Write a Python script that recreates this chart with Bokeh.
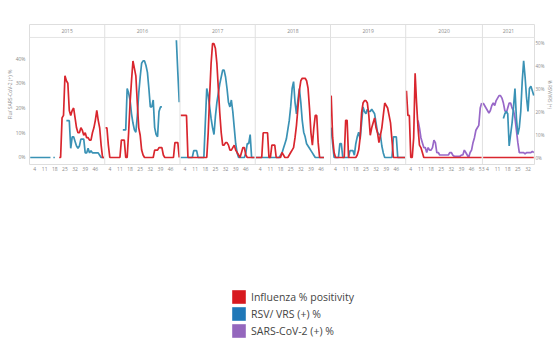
import math
from bokeh.plotting import figure
from bokeh.layouts import column
from bokeh.models import (Range1d, LinearAxis, FixedTicker, PrintfTickFormatter,
                          Label, Span, Legend, LegendItem, ColumnDataSource)
from bokeh.embed import file_html
from bokeh.resources import INLINE

N = None
YEARS = ["2015", "2016", "2017", "2018", "2019", "2020", "2021"]
WEEKS_PER_YEAR = [52, 52, 52, 52, 52, 53, 36]
TICK_WEEKS = [4, 11, 18, 25, 32, 39, 46, 53]
LEFT_TICKS = [0, 10, 20, 30, 40]
RIGHT_TICKS = [0, 10, 20, 30, 40, 50]

# Influenza % positivity (left axis), one value per week
FLU_2015 = [N] * 20 + [0, 0, 16, 17, 33, 31, 30, 19, 17, 19, 20, 16, 12, 10, 10, 12, 11, 9, 10, 8,
                       8, 7, 7, 10, 12, 15, 19, 15, 12, 5, 0, 0]
FLU_2016 = [12, 12, 5, 0, 0, 0, 0, 0, 0, 0, 0, 7, 7, 7, 0, 0, 10, 22, 31, 39, 36, 33, 22, 12, 9, 3,
            1, 0, 0, 0, 0, 0, 0, 0, 3, 3, 3, 4, 4, 4, 1, 0, 0, 0, 0, 0, 0, 0, 6, 6, 6, 0]
FLU_2017 = [17, 17, 17, 17, 17, 0, 0, 0, 0, 0, 0, 0, 0, 0, 0, 0, 0, 0, 0, 10, 25, 38, 46, 46, 44, 38,
            28, 18, 10, 5, 5, 6, 6, 5, 3, 3, 4, 5, 3, 2, 1, 0, 2, 4, 4, 1, 0, 0, 0, 0, 0, 0]
FLU_2018 = [0, 0, 0, 0, 0, 10, 10, 10, 10, 0, 0, 5, 5, 5, 0, 0, 0, 0, 2, 1, 0, 0, 0, 1, 2, 3, 4, 8,
            13, 20, 27, 31, 32, 32, 32, 31, 28, 20, 10, 5, 12, 17, 17, 6, 0, 0, 0, 0, N, N, N, N]
FLU_2019 = [25, 8, 2, 0, 0, 0, 0, 0, 0, 0, 15, 15, 0, 0, 0, 0, 0, 0, 1, 3, 8, 18, 22, 23, 23, 22, 17,
            9, 12, 14, 16, 12, 10, 6, 9, 12, 17, 22, 21, 20, 17, 14, 7, 0, 0, 0, 0, 0, 0, 0, 0, 0]
FLU_2020 = [27, 17, 17, 0, 0, 8, 34, 22, 12, 5, 4, 2] + [0] * 41
FLU_2021 = [0] * 36

# RSV / VRS (+) % (right axis)
RSV_2015 = [0] * 15 + [N, 0, 0, N, N, N, N, N, N, N] + [16, 16, 16, 4, 9, 9, 7, 5, 4, 5, 8, 8, 8, 2, 2,
                                                      4, 2, 3, 2, 2, 2, 2, 2, 1, 0, 0, 0]
RSV_2016 = [N] * 12 + [12, 12, 12, 30, 28, 25, 19, 15, 12, 11, 18, 28, 35, 41, 42, 42, 40, 37, 30, 22,
                       22, 25, 13, 10, 9, 20, 22, 22] + [N] * 9 + [51, 37, 24]
RSV_2017 = [0] * 9 + [3, 3, 3] + [0] * 5 + [15, 30, 27, 22, 17, 13, 10, 18, 24, 28, 32, 35, 38, 38, 35,
                                            30, 24, 22, 25, 20, 13, 6, 2] + [0] * 5 + [2, 6, 6, 10, 0, 0, 0]
RSV_2018 = [0] * 17 + [1, 2, 4, 6, 8, 12, 16, 22, 30, 33, 24, 19, 25, 30, 24, 16, 11, 9, 6, 5, 4, 3, 2,
                       1] + [0] * 7 + [N] * 4
RSV_2019 = [13, 6, 0, 0, 0, 0, 6, 6, 0, 0, 0, 0, 0, 3, 3, 3, 1, 6, 9, 11, 8, 15, 22, 20, 19, 21, 20,
            20, 21, 20, 19, 15, 11, 10, 10, 5, 2, 0, 0, 0, 0, 0, 0, 9, 9, 9, 0, 0, 0, 0, 0, 0]
RSV_2020 = [N] * 53
RSV_2021 = [N] * 14 + [17, 19, 20, 19, 5, 10, 15, 22, 30, 17, 10, 13, 20, 33, 42, 35, 26, 20, 30, 31,
                       29, 27]

# SARS-CoV-2 (+) % (left axis)
SARS_2015 = [N] * 52
SARS_2016 = [N] * 52
SARS_2017 = [N] * 52
SARS_2018 = [N] * 52
SARS_2019 = [N] * 52
SARS_2020 = [N] * 8 + [15, 12, 8, 6, 4, 4, 2, 4, 3, 3, 4, 7, 6, 2, 2, 1, 1, 1, 1, 1, 1, 1, 2, 2, 1,
                       0.5, 0.5, 0.5, 0.5, 0.5, 1, 1, 3, 2, 1, 0, 2, 3, 6, 8, 11, 12, 13, 20, 22]
SARS_2021 = [22, 21, 20, 19, 18, 19, 21, 22, 21, 23, 24, 25, 25, 24, 22, 19, 18, 20, 22, 22, 20, 19,
             16, 11, 6, 2, 2, 2, 2, 1.5, 2, 2, 2, 2, 2.5, 2]

FLU = [FLU_2015, FLU_2016, FLU_2017, FLU_2018, FLU_2019, FLU_2020, FLU_2021]
RSV = [RSV_2015, RSV_2016, RSV_2017, RSV_2018, RSV_2019, RSV_2020, RSV_2021]
SARS = [SARS_2015, SARS_2016, SARS_2017, SARS_2018, SARS_2019, SARS_2020, SARS_2021]

LABELS = ["Influenza % positivity", "RSV/ VRS (+) %", "SARS-CoV-2 (+) %"]
LINE_COLORS = ["#d9262e", "#3a92b5", "#9868c8"]
KEY_COLORS = ["#d7191f", "#1f78b8", "#9467bd"]

FONT = "Open Sans"
TEXT_GREY = "#8a8a8a"
OFFSETS = [sum(WEEKS_PER_YEAR[:i]) for i in range(len(YEARS))]
TOTAL = sum(WEEKS_PER_YEAR)


def series(per_year):
    xs, ys = [], []
    for off, n, vals in zip(OFFSETS, WEEKS_PER_YEAR, per_year):
        vals = (list(vals) + [None] * n)[:n]
        for w, v in enumerate(vals, start=1):
            xs.append(off + w - 0.5)
            ys.append(float("nan") if v is None else v)
        xs.append(off + n)
        ys.append(float("nan"))
    return ColumnDataSource(dict(x=xs, y=ys))


def style_axis(ax, standoff, title_standoff, size="5px"):
    ax.axis_line_color = None
    ax.major_tick_line_color = None
    ax.minor_tick_line_color = None
    ax.major_tick_out = 0
    ax.major_tick_in = 0
    ax.minor_tick_out = 0
    ax.minor_tick_in = 0
    ax.major_label_standoff = standoff
    ax.axis_label_standoff = title_standoff
    ax.major_label_text_font_size = size
    ax.axis_label_text_font_size = size
    ax.axis_label_text_font_style = "normal"
    ax.major_label_text_color = TEXT_GREY
    ax.axis_label_text_color = TEXT_GREY
    ax.major_label_text_font = FONT
    ax.axis_label_text_font = FONT


# frame spans the header band (top) down to the plot bottom line
PLOT_H = 280
p = figure(width=556, height=PLOT_H, x_range=Range1d(0, TOTAL), y_range=Range1d(-2.83, 53.74),
           output_backend="svg", toolbar_location=None,
           min_border_left=29, min_border_right=19, min_border_top=24,
           min_border_bottom=PLOT_H - 164)
p.extra_y_ranges = {"rsv": Range1d(-3.04, 57.83)}
p.xgrid.visible = False
p.ygrid.visible = False
p.outline_line_color = "#dedede"
p.background_fill_color = "white"
p.border_fill_color = "white"

# x axis ticks: week numbers inside each year pane
tick_pos, overrides = [], {}
for off, n in zip(OFFSETS, WEEKS_PER_YEAR):
    for t in TICK_WEEKS:
        if t <= n:
            pos = off + t - 0.5
            tick_pos.append(pos)
            overrides[pos] = str(t)
xa = p.xaxis[0]
xa.ticker = FixedTicker(ticks=tick_pos)
xa.major_label_overrides = overrides
style_axis(xa, 2, 0)

ya = p.yaxis[0]
ya.ticker = FixedTicker(ticks=LEFT_TICKS)
ya.formatter = PrintfTickFormatter(format="%d%%")
ya.axis_label = "Flu/ SARS-CoV-2 (+) %"
style_axis(ya, 4, 0)

ra = LinearAxis(y_range_name="rsv", ticker=FixedTicker(ticks=RIGHT_TICKS),
                formatter=PrintfTickFormatter(format="%d%%"), axis_label="% RSV/VRS (+)")
style_axis(ra, 1, 0, size="4.5px")
p.add_layout(ra, "right")

# header band: line under the year headers, pane separators, year labels
FRAME_H = 164 - 24
p.add_layout(Span(location=48.5, dimension="width", line_color="#e4e4e4", line_width=1))
for year, off, n in zip(YEARS, OFFSETS, WEEKS_PER_YEAR):
    if off > 0:
        p.add_layout(Span(location=off, dimension="height", line_color="#e0e0e0", line_width=1))
    p.add_layout(Label(x=off + n / 2, y=FRAME_H - 6, y_units="screen", text=year,
                       text_align="center", text_baseline="middle",
                       text_font_size="5px", text_color=TEXT_GREY, text_font=FONT))

flu_src, rsv_src, sars_src = series(FLU), series(RSV), series(SARS)
r_sars = p.line("x", "y", source=sars_src, color=LINE_COLORS[2], line_width=1.7)
r_rsv = p.line("x", "y", source=rsv_src, color=LINE_COLORS[1], line_width=1.7,
               y_range_name="rsv")
r_flu = p.line("x", "y", source=flu_src, color=LINE_COLORS[0], line_width=1.7)

# legend in its own strip below the chart; swatch proxies reuse the series data
# but the strip's ranges are negative, so the proxies themselves never show
LEG_H = 343 - PLOT_H
lg = figure(width=556, height=LEG_H, x_range=Range1d(-2, -1), y_range=Range1d(-2, -1),
            output_backend="svg", toolbar_location=None,
            min_border_left=0, min_border_right=0, min_border_top=0, min_border_bottom=0)
lg.axis.visible = False
lg.xgrid.visible = False
lg.ygrid.visible = False
lg.outline_line_color = None
lg.background_fill_color = "white"
lg.border_fill_color = "white"
keys = [lg.quad(left="x", right="x", top="y", bottom="y", source=src,
                fill_color=c, line_color=None)
        for src, c in zip([flu_src, rsv_src, sars_src], KEY_COLORS)]
legend = Legend(items=[LegendItem(label=lab, renderers=[k]) for lab, k in zip(LABELS, keys)],
                location=(201, LEG_H - 8 - 51), orientation="vertical")
legend.glyph_width = 17
legend.glyph_height = 17
legend.label_height = 17
legend.spacing = 0
legend.padding = 0
legend.margin = 0
legend.label_standoff = 4
legend.border_line_color = None
legend.background_fill_alpha = 0
legend.label_text_font = FONT
legend.label_text_font_size = "10.5px"
legend.label_text_color = "#444444"
lg.add_layout(legend, "center")

layout = column(p, lg, spacing=0)
open("out.html", "w").write(file_html(layout, INLINE))
